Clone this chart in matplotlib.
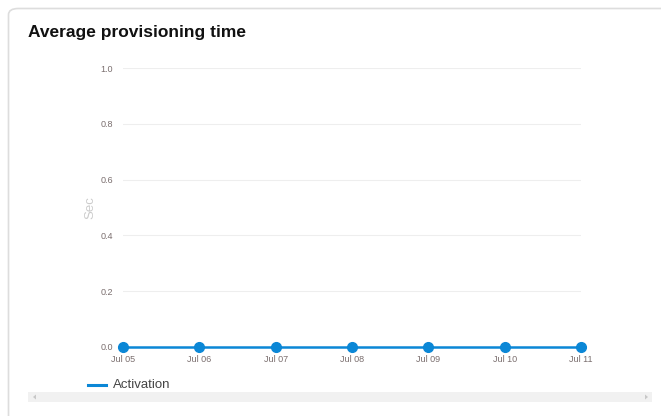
import matplotlib
matplotlib.use("Agg")
import matplotlib.pyplot as plt
from matplotlib.patches import FancyBboxPatch, Rectangle, Polygon
import numpy as np

plt.rcParams["font.family"] = ["Liberation Sans", "DejaVu Sans"]

# Data
dates = ["Jul 05", "Jul 06", "Jul 07", "Jul 08", "Jul 09", "Jul 10", "Jul 11"]
activation = [0, 0, 0, 0, 0, 0, 0]
y_ticks = [0.0, 0.2, 0.4, 0.6, 0.8, 1.0]

W, H = 661, 416
fig = plt.figure(figsize=(W / 100, H / 100), dpi=100)
fig.patch.set_facecolor("white")

def fx(px):
    return px / W

def fy(py):
    return 1 - py / H

# Card outline (extends past the right and bottom edges)
card = FancyBboxPatch((fx(8.5), fy(440)), fx(700), (440 - 8.5) / H,
                      boxstyle="round,pad=0,rounding_size=0.015",
                      transform=fig.transFigure, facecolor="none",
                      edgecolor="#dddddd", linewidth=1.2, zorder=-1)
fig.patches.append(card)

fig.text(fx(28), fy(32.5), "Average provisioning time", fontsize=12.5,
         fontweight="bold", color="#111111", va="center", ha="left")

ax = fig.add_axes([fx(123), fy(347), fx(581 - 123), (347 - 68) / H])
ax.set_facecolor("none")
x = np.arange(len(dates))
blue = "#0b87d6"
ax.plot(x, activation, color=blue, linewidth=1.8, marker="o", markersize=7,
        clip_on=False, zorder=3)

ax.set_xlim(0, len(dates) - 1)
ax.set_ylim(0, 1)
ax.set_yticks(y_ticks)
ax.set_yticklabels([f"{v:.1f}" for v in y_ticks])
ax.set_xticks(x)
ax.set_xticklabels(dates)
ax.tick_params(axis="both", length=0, labelsize=6.5, labelcolor="#7a6e6e")
ax.tick_params(axis="y", pad=7)
ax.tick_params(axis="x", pad=5.5)
ax.grid(axis="y", color="#eeeeee", linewidth=0.8)
ax.grid(axis="x", visible=False)
for s in ax.spines.values():
    s.set_visible(False)
ax.set_ylabel("Sec", fontsize=9.5, color="#cccccc", labelpad=3)

# Legend entry
fig.add_artist(plt.Line2D([fx(88), fx(106)], [fy(385), fy(385)],
                          color=blue, linewidth=2.2, transform=fig.transFigure))
fig.text(fx(113), fy(385.5), "Activation", fontsize=9.5, color="#444444",
         va="center", ha="left")

# Horizontal scrollbar
fig.patches.append(Rectangle((fx(28), fy(402)), fx(652 - 28), 10 / H,
                             transform=fig.transFigure, facecolor="#f1f1f1",
                             edgecolor="none", zorder=1))
fig.patches.append(Polygon([[fx(33), fy(397)], [fx(36), fy(394.5)], [fx(36), fy(399.5)]],
                           closed=True, transform=fig.transFigure,
                           facecolor="#c8c8c8", edgecolor="none", zorder=2))
fig.patches.append(Polygon([[fx(648), fy(397)], [fx(645), fy(394.5)], [fx(645), fy(399.5)]],
                           closed=True, transform=fig.transFigure,
                           facecolor="#c8c8c8", edgecolor="none", zorder=2))

fig.savefig("out.png", dpi=100)
